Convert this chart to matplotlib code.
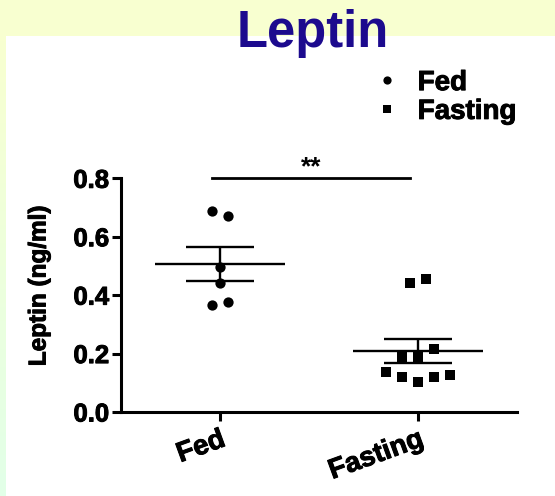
import numpy as np
import matplotlib
matplotlib.use('Agg')
import matplotlib.pyplot as plt
import matplotlib.patheffects as pe
from matplotlib.patches import Rectangle
from matplotlib.colors import LinearSegmentedColormap
from matplotlib.ticker import FormatStrFormatter

# Leptin (ng/ml) for each animal
groups = ['Fed', 'Fasting']
fed = [0.687, 0.670, 0.496, 0.441, 0.366, 0.376]
fasting = [0.440, 0.455, 0.189, 0.187, 0.215, 0.136, 0.121, 0.102, 0.119, 0.127]
markers = ['o', 's']
yticks = [0.0, 0.2, 0.4, 0.6, 0.8]


def spread(values, gap=0.03, step=0.08):
    # put near-equal values side by side, rows centred on the group
    values = np.asarray(values)
    order = np.argsort(-values, kind='stable')
    rows, cur = [], [order[0]]
    for prev, i in zip(order[:-1], order[1:]):
        if values[prev] - values[i] < gap:
            cur.append(i)
        else:
            rows.append(cur)
            cur = [i]
    rows.append(cur)
    offs = np.zeros(len(values))
    for row in rows:
        row = sorted(row)
        for k, i in enumerate(row):
            offs[i] = (k - (len(row) - 1) / 2) * step
    return offs


# heavier strokes on the black text
heavy = [pe.withStroke(linewidth=0.7, foreground='black')]

W, H = 555, 496
fig = plt.figure(figsize=(W / 100, H / 100), dpi=100, facecolor='#f8ffd0')

# slide background: white panel, left strip fading from yellow to mint
fig.patches.append(Rectangle((6 / W, 0), 1, 1 - 36 / H, transform=fig.transFigure,
                             facecolor='white', edgecolor='none', zorder=-3))
strip = fig.add_axes([0, 0, 6 / W, 1 - 36 / H], zorder=-2)
cmap = LinearSegmentedColormap.from_list('strip', ['#f8ffd0', '#e2ffe8'])
strip.imshow(np.linspace(0, 1, 100)[:, None], aspect='auto', cmap=cmap)
strip.axis('off')

ax = fig.add_axes([121 / W, 1 - 412 / H, 396 / W, 233.7 / H], zorder=1)
ax.patch.set_alpha(0)

handles = []
for i, (vals, m) in enumerate(zip([fed, fasting], markers)):
    vals = np.asarray(vals)
    h, = ax.plot(i + spread(vals), vals, m, color='black', ms=7.4 if m == 'o' else 7.6,
                 mew=0, linestyle='none', clip_on=False, zorder=3)
    handles.append(h)
    mean = vals.mean()
    sem = vals.std(ddof=1) / np.sqrt(len(vals))
    ax.hlines(mean, i - 0.33, i + 0.33, color='black', lw=1.7, zorder=2)
    ax.hlines([mean - sem, mean + sem], i - 0.17, i + 0.17, color='black', lw=1.7, zorder=2)
    ax.vlines(i, mean - sem, mean + sem, color='black', lw=1.7, zorder=2)

# significance bar
ax.plot([-0.04, 0.96], [0.8, 0.8], color='black', lw=2, clip_on=False)
ax.text(0.46, 0.812, '**', ha='center', va='baseline', fontsize=19,
        fontweight='bold', family='Liberation Sans')

ax.set_xlim(-0.5, 1.5)
ax.set_ylim(0, 0.8)
ax.set_yticks(yticks)
ax.yaxis.set_major_formatter(FormatStrFormatter('%.1f'))
ax.set_xticks(range(len(groups)))
ax.set_xticklabels(groups, rotation=20, ha='right', rotation_mode='anchor',
                   fontsize=20, fontweight='bold', family='Liberation Sans')
for lab in ax.get_yticklabels():
    lab.set_fontsize(18.5)
    lab.set_fontweight('bold')
    lab.set_family('Liberation Sans')
for lab in ax.get_xticklabels() + ax.get_yticklabels():
    lab.set_path_effects(heavy)
ax.tick_params(width=2.2, length=6.5, color='black')
ax.tick_params(axis='x', pad=4)
ax.tick_params(axis='y', pad=2)
for s in ['top', 'right']:
    ax.spines[s].set_visible(False)
for s in ['left', 'bottom']:
    ax.spines[s].set_linewidth(2.2)

ax.set_ylabel('Leptin (ng/ml)', fontsize=17.5, fontweight='bold', family='Liberation Sans',
              path_effects=heavy)
ax.yaxis.label.set_va('center')
ax.yaxis.set_label_coords((39 - 121) / 396, (412 - 285.8) / 233.7)

fig.text(313 / W, 1 - 46.7 / H, 'Leptin', ha='center', va='baseline', fontsize=36.5,
         fontweight='bold', color='#1c0a8e', family='Liberation Sans')

leg = fig.legend(handles, groups, loc='center left', bbox_to_anchor=(376 / W, 1 - 97.5 / H),
                 frameon=False, borderpad=0, borderaxespad=0, handlelength=0.8,
                 handletextpad=0.7, labelspacing=0.1, markerscale=0.8,
                 prop={'family': 'Liberation Sans', 'weight': 'bold', 'size': 20})
for t in leg.get_texts():
    t.set_path_effects(heavy)

fig.savefig('out.png', dpi=100, facecolor=fig.get_facecolor())
